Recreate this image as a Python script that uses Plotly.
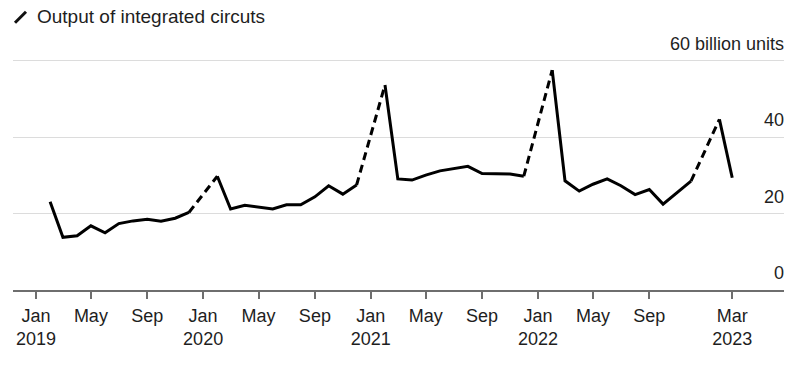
import plotly.graph_objects as go

# Monthly output of integrated circuits (billion units); Jan-Feb reported combined (plotted at Feb)
months = [
    "2019-02", "2019-03", "2019-04", "2019-05", "2019-06", "2019-07", "2019-08", "2019-09", "2019-10", "2019-11", "2019-12",
    "2020-02", "2020-03", "2020-04", "2020-05", "2020-06", "2020-07", "2020-08", "2020-09", "2020-10", "2020-11", "2020-12",
    "2021-02", "2021-03", "2021-04", "2021-05", "2021-06", "2021-07", "2021-08", "2021-09", "2021-10", "2021-11", "2021-12",
    "2022-02", "2022-03", "2022-04", "2022-05", "2022-06", "2022-07", "2022-08", "2022-09", "2022-10", "2022-11", "2022-12",
    "2023-02", "2023-03",
]
output = [
    23.1, 13.8, 14.2, 16.8, 15.0, 17.4, 18.1, 18.5, 18.0, 18.8, 20.3,
    29.8, 21.2, 22.2, 21.8, 21.2, 22.3, 22.3, 24.4, 27.3, 25.1, 27.5,
    53.7, 29.1, 28.8, 30.1, 31.2, 31.8, 32.4, 30.5, 30.4, 30.4, 29.8,
    57.6, 28.6, 25.9, 27.7, 29.1, 27.3, 25.0, 26.3, 22.5, 25.6, 28.5,
    44.7, 29.4,
]
x_tickvals = ["2019-01-01", "2019-05-01", "2019-09-01", "2020-01-01", "2020-05-01", "2020-09-01",
              "2021-01-01", "2021-05-01", "2021-09-01", "2022-01-01", "2022-05-01", "2022-09-01", "2023-03-01"]
x_ticktext = ["Jan<br>2019", "May", "Sep", "Jan<br>2020", "May", "Sep",
              "Jan<br>2021", "May", "Sep", "Jan<br>2022", "May", "Sep", "Mar<br>2023"]
y_tickvals = [0, 20, 40, 60]
y_ticktext = ["0", "20", "40", "60 billion units"]
title_text = "Output of integrated circuts"

dates = [m + "-01" for m in months]

# solid segments break at each Jan-Feb combined point; dashed segments join Dec -> Feb
solid_x, solid_y, dash_x, dash_y = [], [], [], []
for i, (d, v) in enumerate(zip(dates, output)):
    if d[5:7] == "02" and i > 0:
        solid_x.append(None); solid_y.append(None)
        dash_x += [dates[i - 1], d, None]
        dash_y += [output[i - 1], v, None]
    solid_x.append(d); solid_y.append(v)

FONT = "Liberation Sans, Arial, Helvetica, sans-serif"
TXT = "#1e1e1e"

fig = go.Figure()
fig.add_trace(go.Scatter(x=dash_x, y=dash_y, mode="lines",
                         line=dict(color="#000000", width=3, dash="8px,5px"),
                         hoverinfo="skip", showlegend=False))
fig.add_trace(go.Scatter(x=solid_x, y=solid_y, mode="lines",
                         line=dict(color="#000000", width=3),
                         connectgaps=False, showlegend=False))

# y-axis labels sit above their gridlines at the right edge
y_annotations = [dict(text=t, x=1, xref="paper", xanchor="right", xshift=2,
                      y=v, yref="y", yanchor="middle", yshift=17, showarrow=False,
                      font=dict(family=FONT, size=18, color=TXT))
                 for v, t in zip(y_tickvals, y_ticktext)]

fig.update_layout(
    width=800, height=367,
    margin=dict(l=13, r=16, t=59, b=77),
    paper_bgcolor="white", plot_bgcolor="white",
    font=dict(family=FONT, size=18, color=TXT),
    title=dict(text=title_text, x=37 / 800, xanchor="left", xref="container",
               y=1 - 16 / 367, yanchor="middle", yref="container",
               font=dict(family=FONT, size=19, color=TXT)),
    xaxis=dict(type="date", range=["2018-11-12", "2023-06-22"],
               tickmode="array", tickvals=x_tickvals, ticktext=x_ticktext,
               showgrid=False, zeroline=False,
               showline=True, linecolor="#6e6e6e", linewidth=2,
               ticks="outside", ticklen=7, tickwidth=1.5, tickcolor="#6e6e6e",
               ticklabelstandoff=1,
               tickfont=dict(family=FONT, size=18, color=TXT)),
    yaxis=dict(range=[0, 60.5], side="right",
               tickmode="array", tickvals=y_tickvals,
               showticklabels=False,
               showgrid=True, gridcolor="#dcdcdc", gridwidth=1,
               zeroline=False, showline=False, ticks=""),
    annotations=y_annotations,
    shapes=[dict(type="line", xref="paper", yref="paper",
                 x0=(15 - 13) / 771, y0=(290 - 22.7) / 231,
                 x1=(26 - 13) / 771, y1=(290 - 11.7) / 231,
                 line=dict(color="#111111", width=3))],
)

fig.write_html("out.html")
